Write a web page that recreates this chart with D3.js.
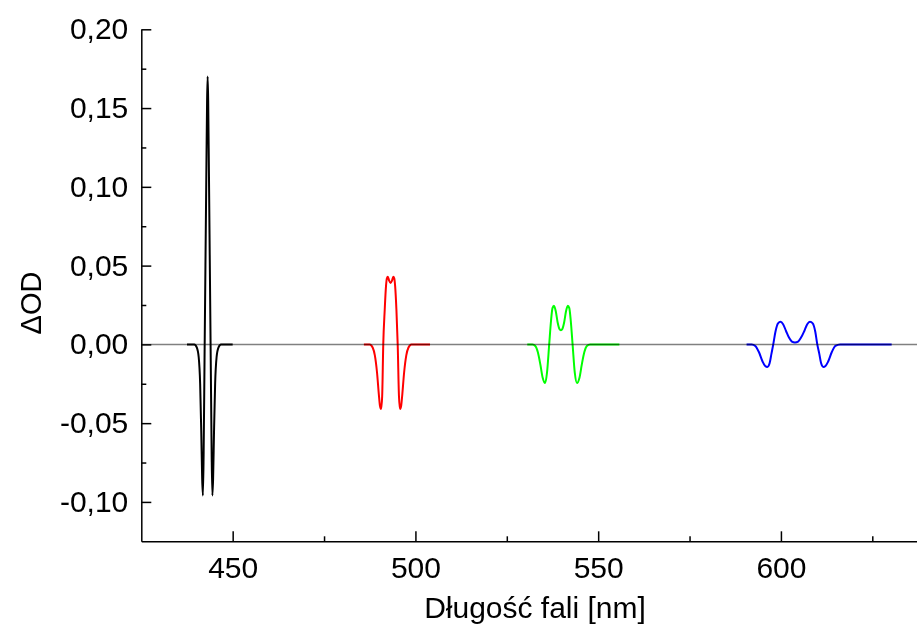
<!DOCTYPE html>
<html>
<head>
<meta charset="utf-8">
<script src="https://cdn.jsdelivr.net/npm/d3@7"></script>
<style>
  body { margin: 0; background: #fff; }
  svg text { font-family: "Liberation Sans", Arial, sans-serif; fill: #000; }
</style>
</head>
<body>
<svg id="chart" width="917" height="628"></svg>
<script>
// Difference spectra (wavelength in nm, ΔOD)
const blackNm = [437.5, 439.5, 440.2, 440.7, 441.1, 441.4, 441.65, 441.85, 442.05, 442.3, 442.55, 442.8, 443.0, 443.15, 443.3, 443.5, 443.75, 444.0, 444.25, 444.45, 444.65, 444.9, 445.2, 445.6, 446.1, 446.8, 450.0];
const blackOD = [0, 0, -0.002, -0.008, -0.025, -0.055, -0.085, -0.096, -0.07, -0.01, 0.05, 0.11, 0.155, 0.170, 0.155, 0.11, 0.05, -0.01, -0.07, -0.096, -0.085, -0.055, -0.025, -0.008, -0.002, 0, 0];

const redNm = [485.9, 487.5, 488.3, 488.9, 489.5, 490.0, 490.3, 490.6, 490.9, 491.2, 491.6, 491.95, 492.2, 492.45, 492.8, 493.2, 493.6, 493.95, 494.2, 494.45, 494.8, 495.15, 495.5, 495.8, 496.1, 496.4, 496.9, 497.5, 498.1, 498.9, 504.0];
const redOD = [0, 0, -0.002, -0.007, -0.018, -0.032, -0.039, -0.041, -0.033, 0, 0.022, 0.037, 0.042, 0.043, 0.0405, 0.039, 0.0405, 0.043, 0.042, 0.037, 0.022, 0, -0.033, -0.041, -0.039, -0.032, -0.018, -0.007, -0.002, 0, 0];

const greenNm = [530.6, 532.0, 532.8, 533.5, 534.2, 534.8, 535.5, 536.0, 536.6, 537.1, 537.5, 537.9, 538.4, 538.9, 539.4, 539.8, 540.2, 540.7, 541.2, 541.7, 542.1, 542.5, 543.0, 543.6, 544.2, 544.9, 545.5, 546.2, 546.9, 547.8, 555.8];
const greenOD = [0, 0, -0.001, -0.005, -0.013, -0.021, -0.0245, -0.018, 0, 0.015, 0.023, 0.0245, 0.021, 0.014, 0.0098, 0.009, 0.0098, 0.014, 0.021, 0.0245, 0.023, 0.015, 0, -0.018, -0.0245, -0.021, -0.013, -0.005, -0.001, 0, 0];

const blueNm = [590.6, 592.0, 593.0, 594.0, 595.0, 595.7, 596.3, 596.9, 597.4, 597.9, 598.5, 599.2, 599.9, 600.6, 601.4, 602.2, 603.0, 603.85, 604.7, 605.5, 606.4, 607.2, 607.95, 608.7, 609.4, 609.95, 610.5, 611.0, 611.6, 612.2, 612.9, 613.9, 614.9, 616.2, 630.3];
const blueOD = [0, 0, -0.001, -0.005, -0.011, -0.0137, -0.0143, -0.012, -0.006, 0, 0.008, 0.0133, 0.0143, 0.0128, 0.0085, 0.0043, 0.0018, 0.0012, 0.0018, 0.0043, 0.0085, 0.0128, 0.0143, 0.0133, 0.008, 0, -0.006, -0.012, -0.0143, -0.0137, -0.011, -0.005, -0.001, 0, 0];

const seriesColors = ["#000000", "#ff0000", "#00ff00", "#0000ff"];

// Axis ticks
const xTicks = [450, 500, 550, 600];
const xMinorTicks = [475, 525, 575, 625];
const yTicks = [-0.10, -0.05, 0.00, 0.05, 0.10, 0.15, 0.20];
const yMinorTicks = [-0.075, -0.025, 0.025, 0.075, 0.125, 0.175];

const xTitle = "Długość fali [nm]";
const yTitle = "ΔOD";

const svg = d3.select("#chart");
const plotLeft = 141.3, plotTop = 29.3, plotBottom = 541.3;
const fontSize = 30;

const x = d3.scaleLinear().domain([425, 640]).range([plotLeft, plotLeft + 215 * 3.655]);
const y = d3.scaleLinear().domain([-0.125, 0.20]).range([plotBottom, plotTop]);

const locale = d3.formatLocale({ decimal: ",", thousands: " ", grouping: [3], currency: ["", ""], minus: "-" });
const fmt = locale.format(".2f");

// zero reference line
svg.append("line")
  .attr("x1", x(425)).attr("x2", x(640))
  .attr("y1", y(0)).attr("y2", y(0))
  .attr("stroke", "#808080").attr("stroke-width", 1.5);

// curves
const series = [
  [blackNm, blackOD], [redNm, redOD], [greenNm, greenOD], [blueNm, blueOD]
];
const line = d3.line()
  .x(d => x(d[0])).y(d => y(d[1]))
  .curve(d3.curveMonotoneX);

series.forEach(([nm, od], i) => {
  svg.append("path")
    .datum(nm.map((v, k) => [v, od[k]]))
    .attr("d", line)
    .attr("fill", "none")
    .attr("stroke", seriesColors[i])
    .attr("stroke-width", 2)
    .style("mix-blend-mode", "multiply");
});

// axes
svg.append("g").attr("transform", `translate(0,${plotBottom})`)
  .call(d3.axisBottom(x).tickValues(xTicks).tickSize(-10).tickSizeOuter(0).tickPadding(15));
svg.append("g").attr("transform", `translate(0,${plotBottom})`)
  .call(d3.axisBottom(x).tickValues(xMinorTicks).tickSize(-5).tickFormat(""))
  .call(g => g.select(".domain").remove());

svg.append("g").attr("transform", `translate(${plotLeft},0)`)
  .call(d3.axisLeft(y).tickValues(yTicks).tickSize(-10).tickSizeOuter(0).tickPadding(13).tickFormat(fmt));
svg.append("g").attr("transform", `translate(${plotLeft},0)`)
  .call(d3.axisLeft(y).tickValues(yMinorTicks).tickSize(-5).tickFormat(""))
  .call(g => g.select(".domain").remove());

svg.selectAll(".domain").attr("stroke", "#000").attr("stroke-width", 1.5);
svg.selectAll(".tick line").attr("stroke", "#000").attr("stroke-width", 1.5);
svg.selectAll(".tick text")
  .style("font-family", "'Liberation Sans', Arial, sans-serif")
  .attr("font-size", fontSize).attr("fill", "#000");

// axis titles
svg.append("text")
  .attr("x", 535).attr("y", 618)
  .attr("text-anchor", "middle")
  .attr("font-size", fontSize)
  .text(xTitle);

svg.append("text")
  .attr("transform", "translate(41,303) rotate(-90)")
  .attr("text-anchor", "middle")
  .attr("font-size", 29)
  .text(yTitle);
</script>
</body>
</html>
